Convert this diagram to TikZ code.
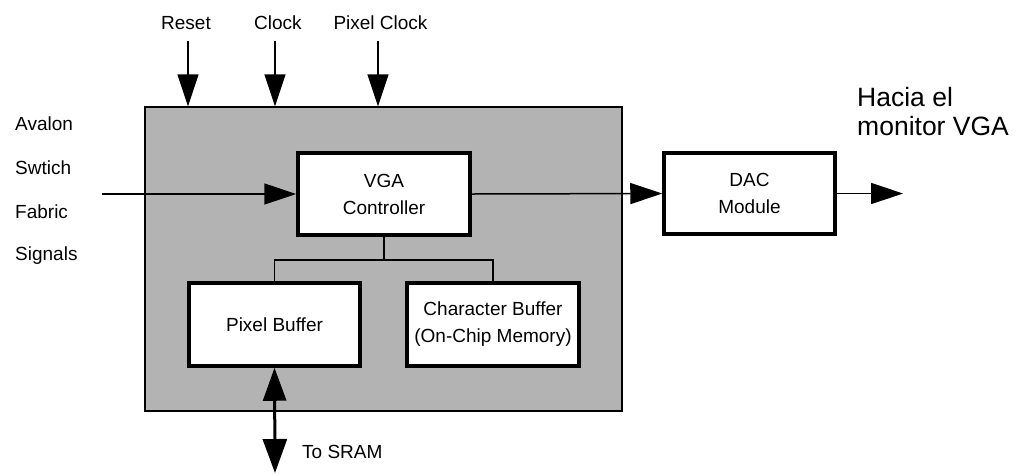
\documentclass[tikz,border=0pt]{standalone}
\usepackage{fontspec}
\setmainfont{Liberation Sans}
\usetikzlibrary{arrows.meta}
\begin{document}
\begin{tikzpicture}[x=1pt,y=-1pt,
  lbl/.style={font=\fontsize{19}{25}\selectfont, inner sep=0pt},
  blk/.style={draw, line width=3.5pt, fill=white, align=center, inner sep=0pt,
    font=\fontsize{19}{27}\selectfont},
  conn/.style={line width=1.5pt},
  arr/.style={line width=1.5pt, -{Triangle[length=32pt,width=21pt]}},
  dblarr/.style={line width=3pt, {Triangle[length=33pt,width=23pt]}-{Triangle[length=34pt,width=24pt]}}
]
\useasboundingbox (0,0) rectangle (1019,475);
% gray block
\node[draw, line width=1.3pt, fill={rgb,255:red,179;green,179;blue,179}, minimum width=477pt, minimum height=304pt, inner sep=0pt] (gray) at (383.5,259) {};
% blocks
\node[blk, minimum width=172pt, minimum height=82pt] (vga) at (384,194) {VGA\\Controller};
\node[blk, minimum width=171pt, minimum height=81pt] (dac) at (749.5,193.5) {DAC\\Module};
\node[blk, minimum width=171pt, minimum height=83pt] (pix) at (274.5,324.5) {Pixel Buffer};
\node[blk, minimum width=172pt, minimum height=83pt] (chr) at (493,324.5) {Character Buffer\\(On-Chip Memory)};
% top labels and arrows
\node[lbl] (lreset) at (186,23) {Reset};
\node[lbl] (lclock) at (278,23) {Clock};
\node[lbl] (lpclk) at (380.5,23) {Pixel Clock};
\coordinate (creset) at (188,41);
\coordinate (cclock) at (275,41);
\coordinate (cpclk) at (378,41);
\draw[arr] (creset) -- (creset |- gray.north);
\draw[arr] (cclock) -- (cclock |- gray.north);
\draw[arr] (cpclk) -- (cpclk |- gray.north);
% left labels
\node[lbl, anchor=west] (la) at (15,124) {Avalon};
\node[lbl, anchor=west] (ls) at (15,168) {Swtich};
\node[lbl, anchor=west] (lf) at (15,212) {Fabric};
\node[lbl, anchor=west] (lsg) at (15,256) {Signals};
\coordinate (cin) at (102,194);
\draw[arr] (cin) -- (vga.west);
% VGA to DAC and out
\draw[arr] (vga.east) -- (dac.west);
\coordinate (cout) at (903,193.5);
\draw[arr] (dac.east) -- (cout);
\node[anchor=north west, align=left, inner sep=0pt, font=\fontsize{26.5}{29}\selectfont] (hacia) at (857,87) {Hacia el\\monitor VGA};
% tree
\coordinate (bus) at (384,260);
\draw[conn] (vga.south) -- (bus);
\draw[conn] (pix.north) -- (pix.north |- bus) -- (chr.north |- bus) -- (chr.north);
% SRAM
\coordinate (csram) at (275,473);
\draw[dblarr] (pix.south) -- (csram);
\node[lbl, anchor=west] (lsram) at (302,452) {To SRAM};
\end{tikzpicture}
\end{document}
